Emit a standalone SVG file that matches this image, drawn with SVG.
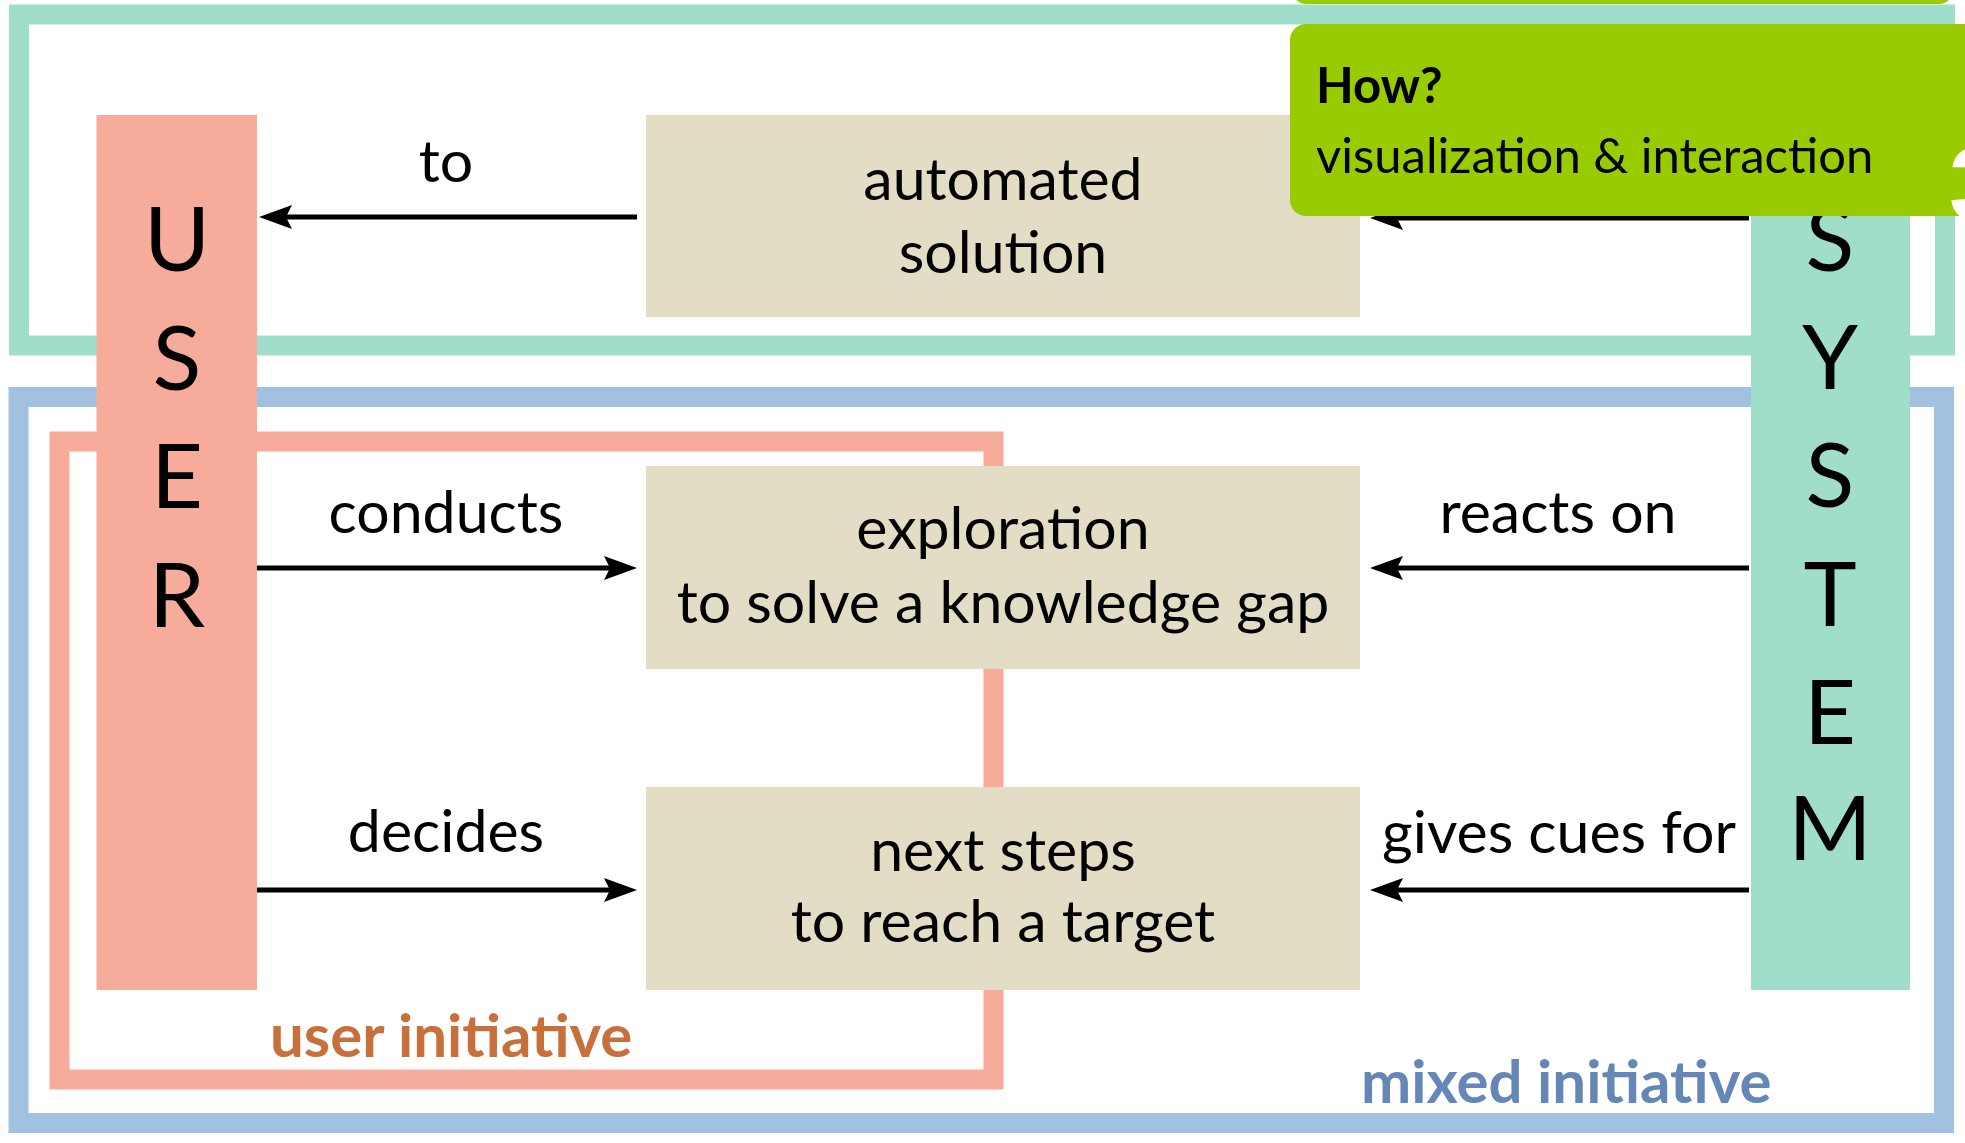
<svg xmlns="http://www.w3.org/2000/svg" width="1965" height="1143" viewBox="0 0 1965 1143">
<defs>
<style>
.frame{fill:none;stroke-width:20}
.box{fill:#E3DDC5}
.t{font-family:Lato,"Open Sans","Liberation Sans",sans-serif;fill:#000}
.bt{font-size:59px;text-anchor:middle}
.lbl{font-size:59px;text-anchor:middle}
.big{font-size:90px;text-anchor:middle}
.conn{stroke:#000;stroke-width:5;fill:none}
</style>
<marker id="ah" viewBox="0 0 33 24" refX="13" refY="12" markerWidth="33" markerHeight="24" markerUnits="userSpaceOnUse" orient="auto">
<path d="M0,0 L33,12 L0,24 L6,12 Z" fill="#000"/>
</marker>
</defs>
<rect width="1965" height="1143" fill="#fff"/>
<g id="frame-automated"><rect class="frame" x="19" y="14.5" width="1926" height="331" stroke="#A0DECB"/></g>
<g id="frame-mixed"><rect class="frame" x="18.5" y="397" width="1925.5" height="726" stroke="#A2C1E1"/></g>
<g id="frame-user"><rect class="frame" x="59.5" y="441.5" width="934" height="638" stroke="#F7AB9A"/></g>
<g id="user">
<rect x="96.5" y="115" width="160.5" height="875" fill="#F7AB9A"/>
<text class="t big" x="177" y="271">U</text>
<text class="t big" x="177" y="390">S</text>
<text class="t big" x="177" y="508">E</text>
<text class="t big" x="177" y="627">R</text>
</g>
<g id="system">
<rect x="1751" y="115" width="159" height="875" fill="#A0DECB"/>
<text class="t big" x="1830" y="271">S</text>
<text class="t big" x="1830" y="389">Y</text>
<text class="t big" x="1830" y="507">S</text>
<text class="t big" x="1830" y="626">T</text>
<text class="t big" x="1830" y="744">E</text>
<text class="t big" x="1830" y="860">M</text>
</g>
<g id="automated-solution">
<rect class="box" x="646" y="115" width="714" height="202"/>
<text class="t bt" x="1003" y="200">automated</text>
<text class="t bt" x="1003" y="273">solution</text>
</g>
<g id="exploration">
<rect class="box" x="646" y="466" width="714" height="203"/>
<text class="t bt" x="1003" y="549">exploration</text>
<text class="t bt" x="1003" y="623">to solve a knowledge gap</text>
</g>
<g id="next-steps">
<rect class="box" x="646" y="787" width="714" height="203"/>
<text class="t bt" x="1003" y="871">next steps</text>
<text class="t bt" x="1003" y="942">to reach a target</text>
</g>
<g id="connectors">
<path class="conn" d="M637,217 L279,217" marker-end="url(#ah)"/>
<path class="conn" d="M1749,218 L1390,218" marker-end="url(#ah)"/>
<path class="conn" d="M257,568 L617,568" marker-end="url(#ah)"/>
<path class="conn" d="M257,890 L617,890" marker-end="url(#ah)"/>
<path class="conn" d="M1749,568 L1390,568" marker-end="url(#ah)"/>
<path class="conn" d="M1749,890 L1390,890" marker-end="url(#ah)"/>
<text class="t lbl" x="446" y="182">to</text>
<text class="t lbl" x="446" y="533">conducts</text>
<text class="t lbl" x="446" y="852">decides</text>
<text class="t lbl" x="1558" y="533">reacts on</text>
<text class="t lbl" x="1559" y="853">gives cues for</text>
</g>
<g id="labels">
<text class="t" x="270" y="1057" font-size="60" font-weight="bold" style="fill:#C8703C">user initiative</text>
<text class="t" x="1361" y="1103" font-size="60" font-weight="bold" style="fill:#6487B8">mixed initiative</text>
</g>
<g id="callout-top"><rect x="1292" y="-40" width="661" height="44" rx="14" fill="#99CC00"/></g>
<g id="callout-how">
<rect x="1290" y="24" width="700" height="192" rx="16" fill="#99CC00"/>
<text class="t" x="1316" y="103" font-size="49" font-weight="bold">How?</text>
<text class="t" x="1316" y="173" font-size="49">visualization &amp; interaction</text>
<text x="1949" y="220" font-family="Liberation Sans, sans-serif" font-size="104" font-weight="bold" fill="#fff">3</text>
</g>
</svg>
